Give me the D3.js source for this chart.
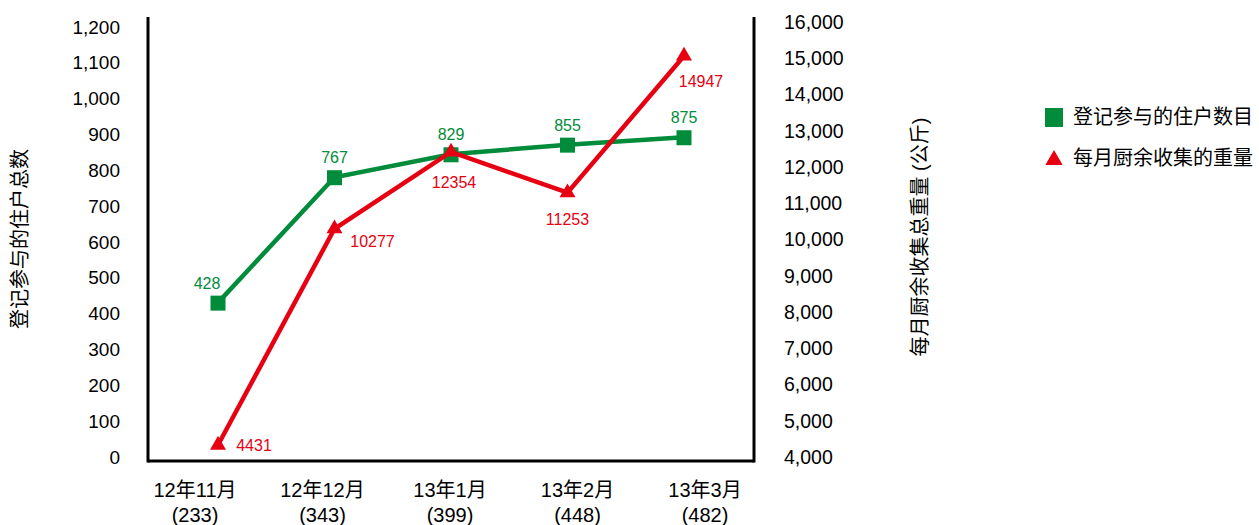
<!DOCTYPE html>
<html>
<head>
<meta charset="utf-8">
<script src="https://cdn.jsdelivr.net/npm/d3@7"></script>
<style>
  body { margin: 0; background: #fff; }
  svg text { font-family: "Liberation Sans", Arial, "Noto Sans CJK SC", sans-serif; }
</style>
</head>
<body>
<svg id="chart" width="1259" height="525"></svg>
<script>
const months = ['12年11月', '12年12月', '13年1月', '13年2月', '13年3月'];
const counts = ['(233)', '(343)', '(399)', '(448)', '(482)'];
const households = [428, 767, 829, 855, 875];
const weights = [4431, 10277, 12354, 11253, 14947];
const leftTicks = [0, 100, 200, 300, 400, 500, 600, 700, 800, 900, 1000, 1100, 1200];
const rightTicks = [4000, 5000, 6000, 7000, 8000, 9000, 10000, 11000, 12000, 13000, 14000, 15000, 16000];

const GREEN = '#008c3a';
const RED = '#e60012';

const svg = d3.select('#chart');
const plotL = 148, plotR = 754, plotT = 17, plotB = 461;

const x = d3.scalePoint().domain(d3.range(months.length)).range([218, 684]);
const xLabel = d3.scalePoint().domain(d3.range(months.length)).range([195, 705]);
const yL = d3.scaleLinear().domain([0, 1200]).range([plotB, plotT]);
const yR = d3.scaleLinear().domain([4000, 16000]).range([plotB, plotT]);
// tick labels sit on a slightly tighter spread than the plot
const yLabL = d3.scaleLinear().domain([0, 1200]).range([457, 27]);
const yLabR = d3.scaleLinear().domain([4000, 16000]).range([457, 22]);
const fmt = d3.format(',');

// axes frame
svg.append('line').attr('x1', plotL).attr('x2', plotL).attr('y1', plotT).attr('y2', plotB + 1.5)
  .attr('stroke', '#000').attr('stroke-width', 3);
svg.append('line').attr('x1', plotR).attr('x2', plotR).attr('y1', plotT).attr('y2', plotB + 1.5)
  .attr('stroke', '#000').attr('stroke-width', 3);
svg.append('line').attr('x1', plotL).attr('x2', plotR).attr('y1', plotB).attr('y2', plotB)
  .attr('stroke', '#000').attr('stroke-width', 3);

svg.append('g').selectAll('text').data(leftTicks).join('text')
  .attr('x', 120).attr('y', d => yLabL(d)).attr('dy', '0.35em')
  .attr('text-anchor', 'end').attr('font-size', 19).attr('fill', '#000')
  .text(d => fmt(d));

svg.append('g').selectAll('text').data(rightTicks).join('text')
  .attr('x', 784).attr('y', d => yLabR(d)).attr('dy', '0.35em')
  .attr('text-anchor', 'start').attr('font-size', 19.5).attr('fill', '#000')
  .text(d => fmt(d));

const xl = svg.append('g').selectAll('g').data(months).join('g')
  .attr('transform', (d, i) => `translate(${xLabel(i)},0)`);
xl.append('text').attr('y', 497).attr('text-anchor', 'middle').attr('font-size', 20)
  .attr('fill', '#000').text(d => d);
xl.append('text').attr('y', 522).attr('text-anchor', 'middle').attr('font-size', 20)
  .attr('fill', '#000').text((d, i) => counts[i]);

// axis titles
svg.append('text').attr('transform', 'translate(20,239) rotate(-90)')
  .attr('text-anchor', 'middle').attr('dy', '0.35em').attr('font-size', 20)
  .text('登记参与的住户总数');
svg.append('text').attr('transform', 'translate(920,237) rotate(-90)')
  .attr('text-anchor', 'middle').attr('dy', '0.35em').attr('font-size', 20)
  .text('每月厨余收集总重量 (公斤)');

// green series
svg.append('path').datum(households)
  .attr('d', d3.line().x((d, i) => x(i)).y(d => yL(d)))
  .attr('fill', 'none').attr('stroke', GREEN).attr('stroke-width', 4.5);
svg.append('g').selectAll('rect').data(households).join('rect')
  .attr('x', (d, i) => x(i) - 7.5).attr('y', d => yL(d) - 7)
  .attr('width', 15).attr('height', 15).attr('fill', GREEN);
svg.append('g').selectAll('text').data(households).join('text')
  .attr('x', (d, i) => x(i) - (i === 0 ? 11 : 0)).attr('y', d => yL(d) - 14)
  .attr('text-anchor', 'middle').attr('font-size', 16).attr('fill', GREEN)
  .text(d => d);

// red series
svg.append('path').datum(weights)
  .attr('d', d3.line().x((d, i) => x(i)).y(d => yR(d)))
  .attr('fill', 'none').attr('stroke', RED).attr('stroke-width', 4.5);
const tri = d3.symbol().type(d3.symbolTriangle).size(110);
svg.append('g').selectAll('path').data(weights).join('path')
  .attr('d', tri).attr('transform', (d, i) => `translate(${x(i)},${yR(d)})`)
  .attr('fill', RED);
const redOff = [[36, 6], [38, 18], [3, 36], [0, 32], [17, 31]];
svg.append('g').selectAll('text').data(weights).join('text')
  .attr('x', (d, i) => x(i) + redOff[i][0]).attr('y', d => yR(d))
  .attr('dy', (d, i) => redOff[i][1])
  .attr('text-anchor', 'middle').attr('font-size', 16).attr('fill', RED)
  .text(d => d);

// legend
const lg = svg.append('g');
lg.append('rect').attr('x', 1045).attr('y', 108).attr('width', 18).attr('height', 19).attr('fill', GREEN);
lg.append('text').attr('x', 1073).attr('y', 117).attr('dy', '0.35em').attr('font-size', 20)
  .text('登记参与的住户数目');
lg.append('path').attr('d', d3.symbol().type(d3.symbolTriangle).size(130))
  .attr('transform', 'translate(1054,160)').attr('fill', RED);
lg.append('text').attr('x', 1073).attr('y', 158).attr('dy', '0.35em').attr('font-size', 20)
  .text('每月厨余收集的重量');
</script>
</body>
</html>
